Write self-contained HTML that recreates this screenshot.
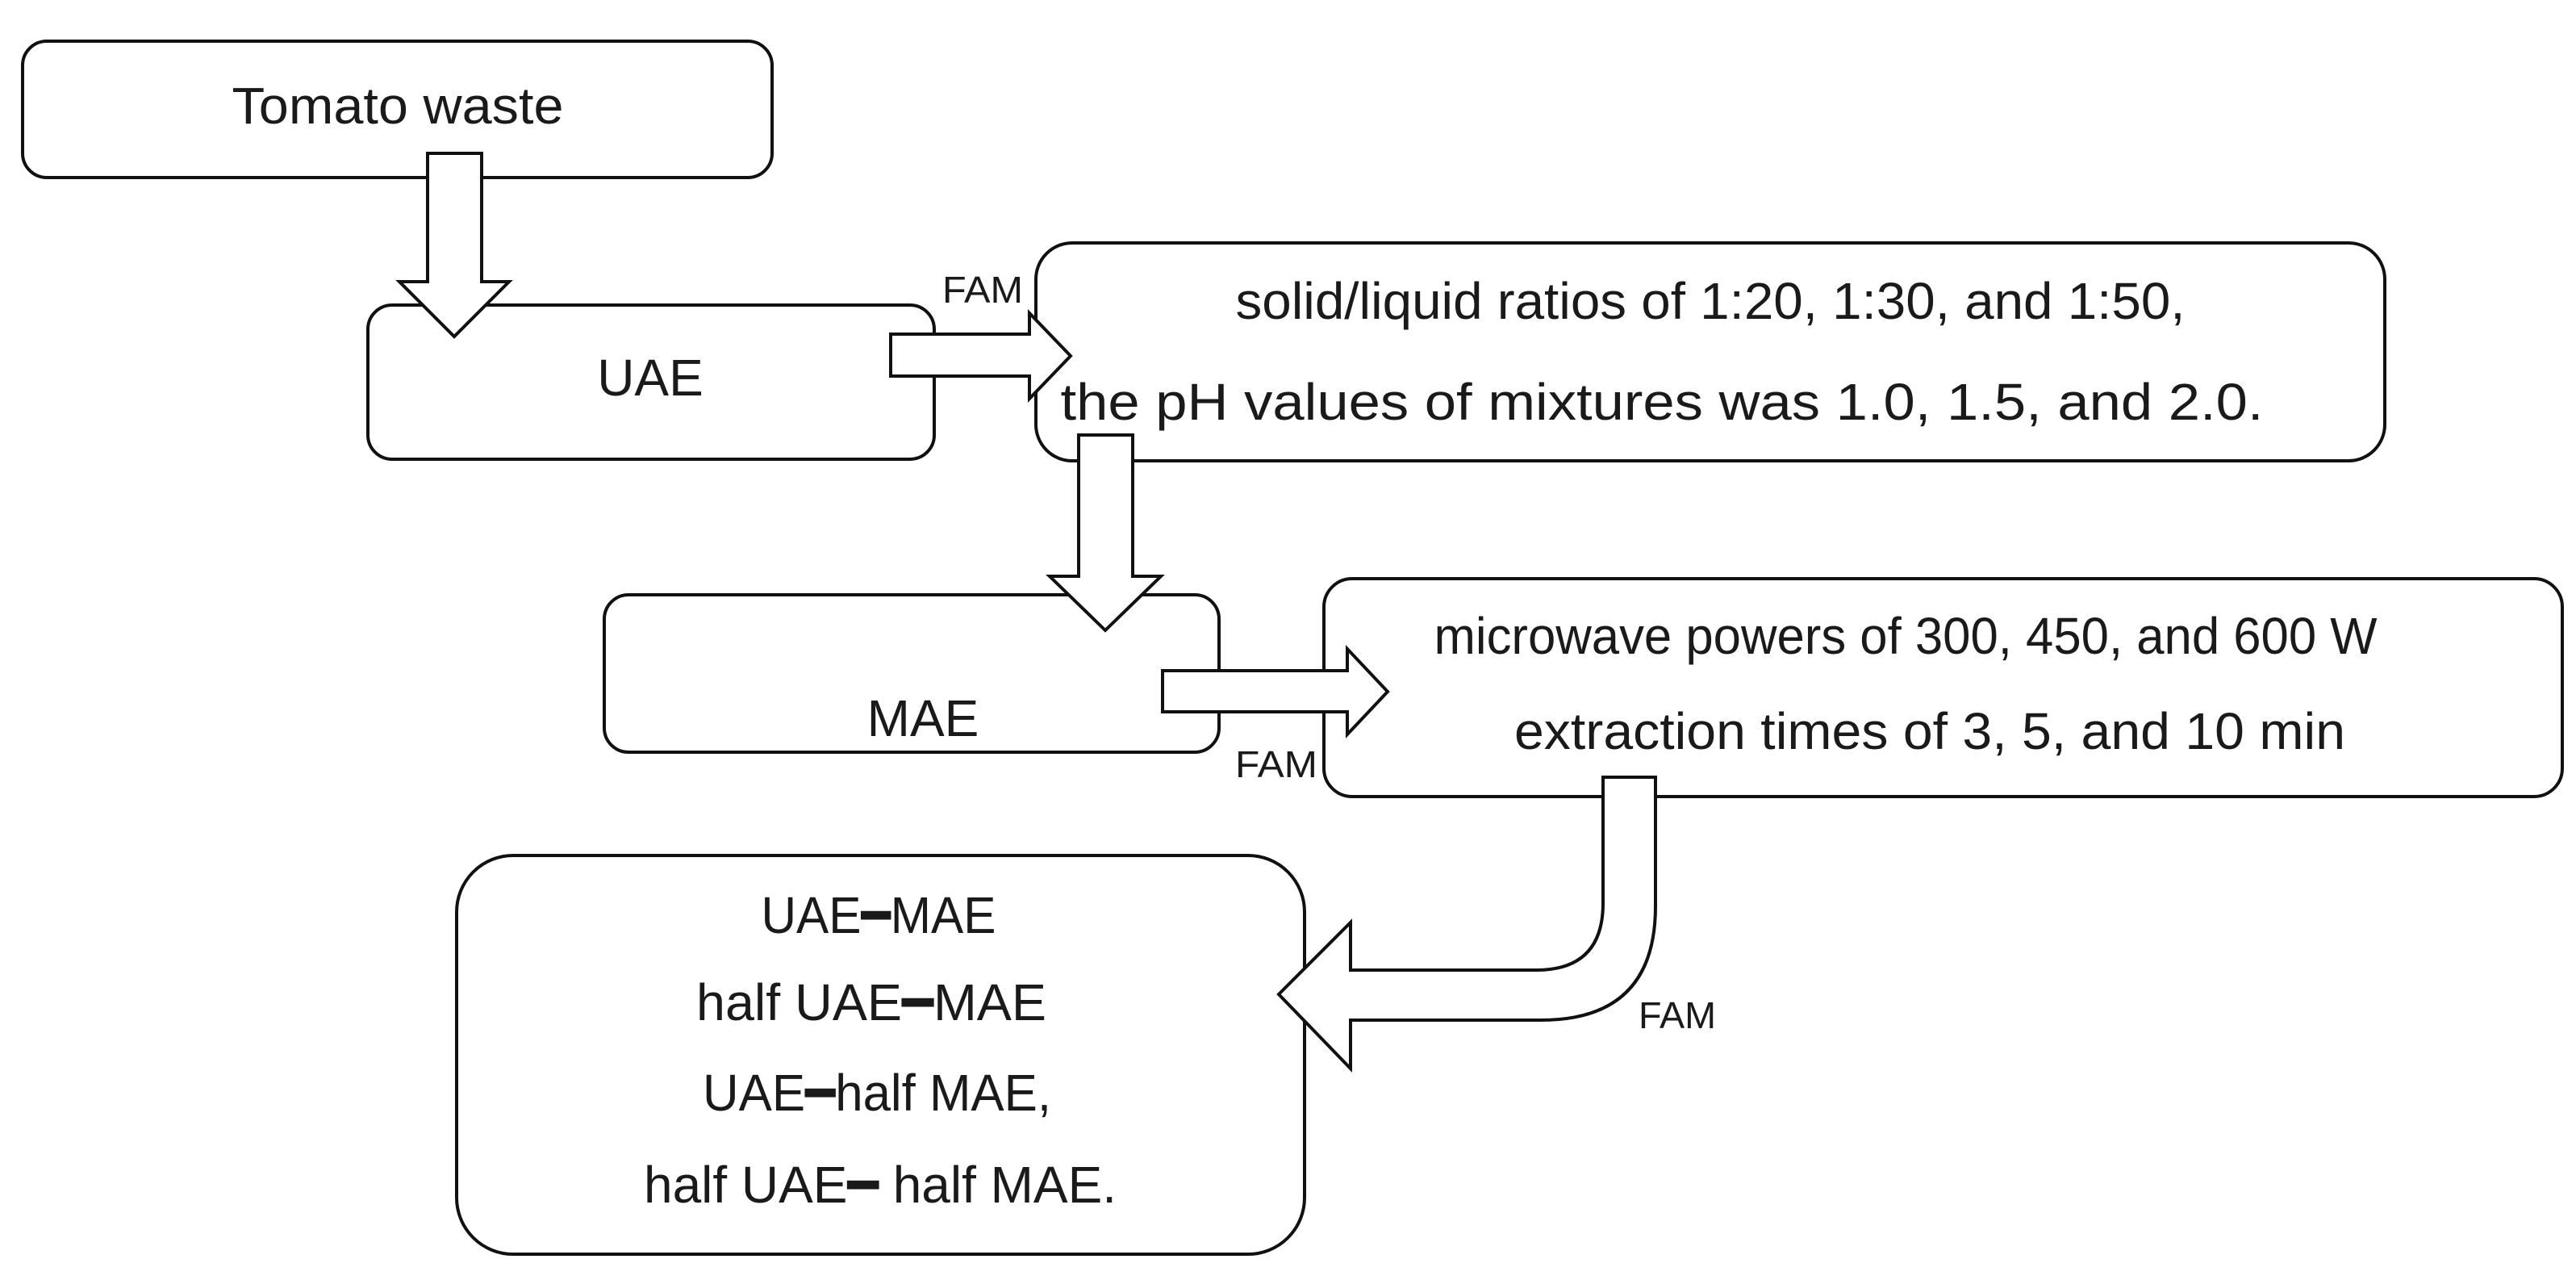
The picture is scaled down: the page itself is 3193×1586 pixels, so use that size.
<!DOCTYPE html>
<html><head><meta charset="utf-8"><style>html,body{margin:0;padding:0;background:#fff}svg{display:block}</style></head>
<body>
<svg width="3193" height="1586" viewBox="0 0 3193 1586" xmlns="http://www.w3.org/2000/svg" font-family="Liberation Sans, DejaVu Sans, sans-serif" fill="#1a1a1a">
<g fill="#fff" stroke="#111" stroke-width="4">
<rect x="28" y="51" width="929" height="169" rx="30"/>
<rect x="456" y="378" width="702" height="191" rx="30"/>
<rect x="1284" y="301" width="1672" height="270" rx="45"/>
<rect x="749" y="737" width="762" height="195" rx="30"/>
<rect x="1641" y="717" width="1535" height="270" rx="35"/>
<rect x="566" y="1060" width="1051" height="494" rx="70"/>
<!-- arrows -->
<path d="M530 190 H597 V349 H631 L563 417 L495 349 H530 Z"/>
<path d="M1104 414 H1276 V388 L1327 441 L1276 494 V466 H1104 Z"/>
<path d="M1337 539 H1404 V714 H1439 L1370 781 L1301 714 H1337 Z"/>
<path d="M1441 831 H1670 V804 L1720 857 L1670 910 V882 H1441 Z"/>
<path d="M1987 963 H2052 V1123 Q2052 1264 1910 1264 H1674 V1324 L1585 1232 L1674 1143 V1202 H1904 Q1987 1202 1987 1119 Z"/>
</g>
<g font-size="64" text-anchor="middle" lengthAdjust="spacingAndGlyphs">
<text x="493" y="153" textLength="411" lengthAdjust="spacingAndGlyphs">Tomato waste</text>
<text x="806" y="490">UAE</text>
<text x="2120" y="395" textLength="1177" lengthAdjust="spacingAndGlyphs">solid/liquid ratios of 1:20, 1:30, and 1:50,</text>
<text x="2060" y="520" textLength="1491" lengthAdjust="spacingAndGlyphs">the pH values of mixtures was 1.0, 1.5, and 2.0.</text>
<text x="1144" y="912">MAE</text>
<text x="2362" y="810" textLength="1169" lengthAdjust="spacingAndGlyphs">microwave powers of 300, 450, and 600 W</text>
<text x="2392" y="928" textLength="1030" lengthAdjust="spacingAndGlyphs">extraction times of 3, 5, and 10 min</text>
<text x="1089" y="1156" textLength="291" lengthAdjust="spacingAndGlyphs">UAE━MAE</text>
<text x="1080" y="1264" textLength="434" lengthAdjust="spacingAndGlyphs">half UAE━MAE</text>
<text x="1087" y="1376" textLength="432" lengthAdjust="spacingAndGlyphs">UAE━half MAE,</text>
<text x="1091" y="1490" textLength="586" lengthAdjust="spacingAndGlyphs">half UAE━ half MAE.</text>
</g>
<g font-size="46" text-anchor="middle">
<text x="1218" y="375" textLength="100" lengthAdjust="spacingAndGlyphs">FAM</text>
<text x="1582" y="963" textLength="102" lengthAdjust="spacingAndGlyphs">FAM</text>
<text x="2079" y="1274" textLength="96" lengthAdjust="spacingAndGlyphs">FAM</text>
</g>
</svg>
</body></html>
